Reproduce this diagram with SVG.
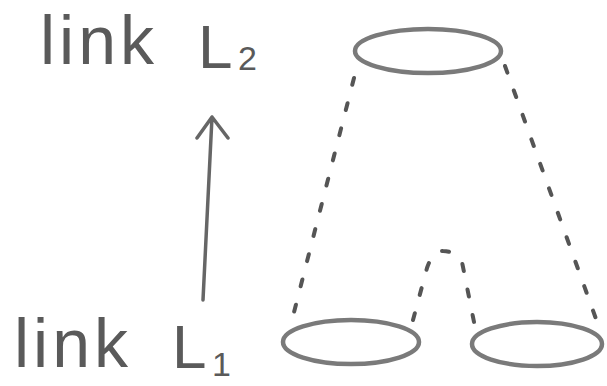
<svg xmlns="http://www.w3.org/2000/svg" width="607" height="386" viewBox="0 0 607 386">
<style>
.lbl{font-family:"Liberation Sans",Arial,sans-serif;fill:#5a5a5a;font-size:68px;letter-spacing:4px}
.big{font-size:62px;letter-spacing:0}
.sub{font-size:34px;letter-spacing:0}
.node{fill:none;stroke:#7a7a7a;stroke-width:4.5}
.dash{fill:none;stroke:#555;stroke-width:4;stroke-linecap:round;stroke-dasharray:7 19}
.arrow{fill:none;stroke:#666;stroke-width:3.5;stroke-linecap:round;stroke-linejoin:round}
</style>
<rect width="607" height="386" fill="#fff"/>
<g id="label-L2"><text class="lbl" x="40" y="64">link <tspan class="big" x="198" y="68">L</tspan><tspan class="sub" x="238" y="70">2</tspan></text></g>
<g id="label-L1"><text class="lbl" x="14" y="367">link <tspan class="big" x="172" y="368">L</tspan><tspan class="sub" x="212" y="376">1</tspan></text></g>
<g id="top-link"><ellipse class="node" cx="428" cy="51" rx="73" ry="22"/></g>
<g id="bottom-left-link"><ellipse class="node" cx="351" cy="342" rx="68" ry="22"/></g>
<g id="bottom-right-link"><ellipse class="node" cx="537" cy="344" rx="65" ry="22"/></g>
<g id="connectors">
<path class="arrow" d="M203,300 L212,117 M197,138 L212,117 L228,138"/>
<path class="dash" d="M354,78 L292,320"/>
<path class="dash" d="M505,66 L600,330"/>
<path class="dash" d="M413,320 L427,268 Q433,250 443,251 Q455,251 462,262 L474,322"/>
</g>
</svg>
